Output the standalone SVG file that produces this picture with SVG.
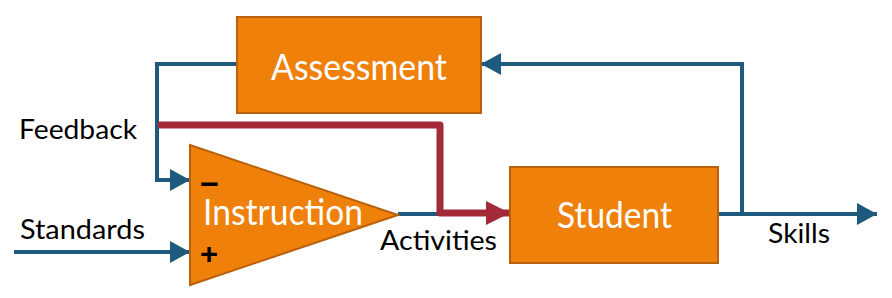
<svg xmlns="http://www.w3.org/2000/svg" width="892" height="298" viewBox="0 0 892 298">
<style>
.box{fill:#ef800a;stroke:#b8600a;stroke-width:2}
.wl{fill:#fff;font-family:Lato,"Open Sans",sans-serif;font-size:37px}
.bl{fill:#000;font-family:Lato,"Open Sans",sans-serif;font-size:26px}
.sg{fill:#000;font-family:"Liberation Sans",Arial,sans-serif;font-size:30px;font-weight:bold}
.blue{fill:none;stroke:#1d5a7e;stroke-width:4}
.red{fill:none;stroke:#a32a38;stroke-width:7}
</style>
<defs>
<marker id="ab" markerUnits="userSpaceOnUse" markerWidth="20" markerHeight="22" refX="20" refY="11" orient="auto"><path d="M0,0 L20,11 L0,22 Z" fill="#1d5a7e"/></marker>
<marker id="ar" markerUnits="userSpaceOnUse" markerWidth="24" markerHeight="24" refX="24" refY="12" orient="auto"><path d="M0,0 L24,12 L0,24 Z" fill="#a32a38"/></marker>
</defs>
<g id="connectors">
<polyline class="blue" points="237,64 157,64 157,180 190,180" marker-end="url(#ab)"/>
<line class="blue" x1="14" y1="252" x2="190" y2="252" marker-end="url(#ab)"/>
<line class="blue" x1="398" y1="214" x2="445" y2="214"/>
<polyline class="red" points="158,125 440,125 440,213 510,213" stroke-linejoin="round" marker-end="url(#ar)"/>
<line class="blue" x1="718" y1="214" x2="877" y2="214" marker-end="url(#ab)"/>
<polyline class="blue" points="742,214 742,64 481,64" marker-end="url(#ab)"/>
</g>
<g id="assessment">
<rect class="box" x="237" y="17" width="244" height="96"/>
<text class="wl" x="271" y="80" textLength="176" lengthAdjust="spacingAndGlyphs">Assessment</text>
</g>
<g id="student">
<rect class="box" x="510" y="167" width="208" height="96"/>
<text class="wl" x="557" y="228" textLength="115" lengthAdjust="spacingAndGlyphs">Student</text>
</g>
<g id="instruction">
<polygon class="box" points="190,145 398,215 190,285"/>
<text class="wl" x="203" y="225" textLength="160" lengthAdjust="spacingAndGlyphs">Instruction</text>
<text class="sg" x="200" y="194" textLength="19" lengthAdjust="spacingAndGlyphs">−</text>
<text class="sg" x="200" y="264" textLength="18" lengthAdjust="spacingAndGlyphs">+</text>
</g>
<g id="labels">
<text class="bl" x="19" y="139" textLength="118" lengthAdjust="spacingAndGlyphs">Feedback</text>
<text class="bl" x="20" y="239" textLength="125" lengthAdjust="spacingAndGlyphs">Standards</text>
<text class="bl" x="380" y="250" textLength="117" lengthAdjust="spacingAndGlyphs">Activities</text>
<text class="bl" x="768" y="243" textLength="62" lengthAdjust="spacingAndGlyphs">Skills</text>
</g>
</svg>
